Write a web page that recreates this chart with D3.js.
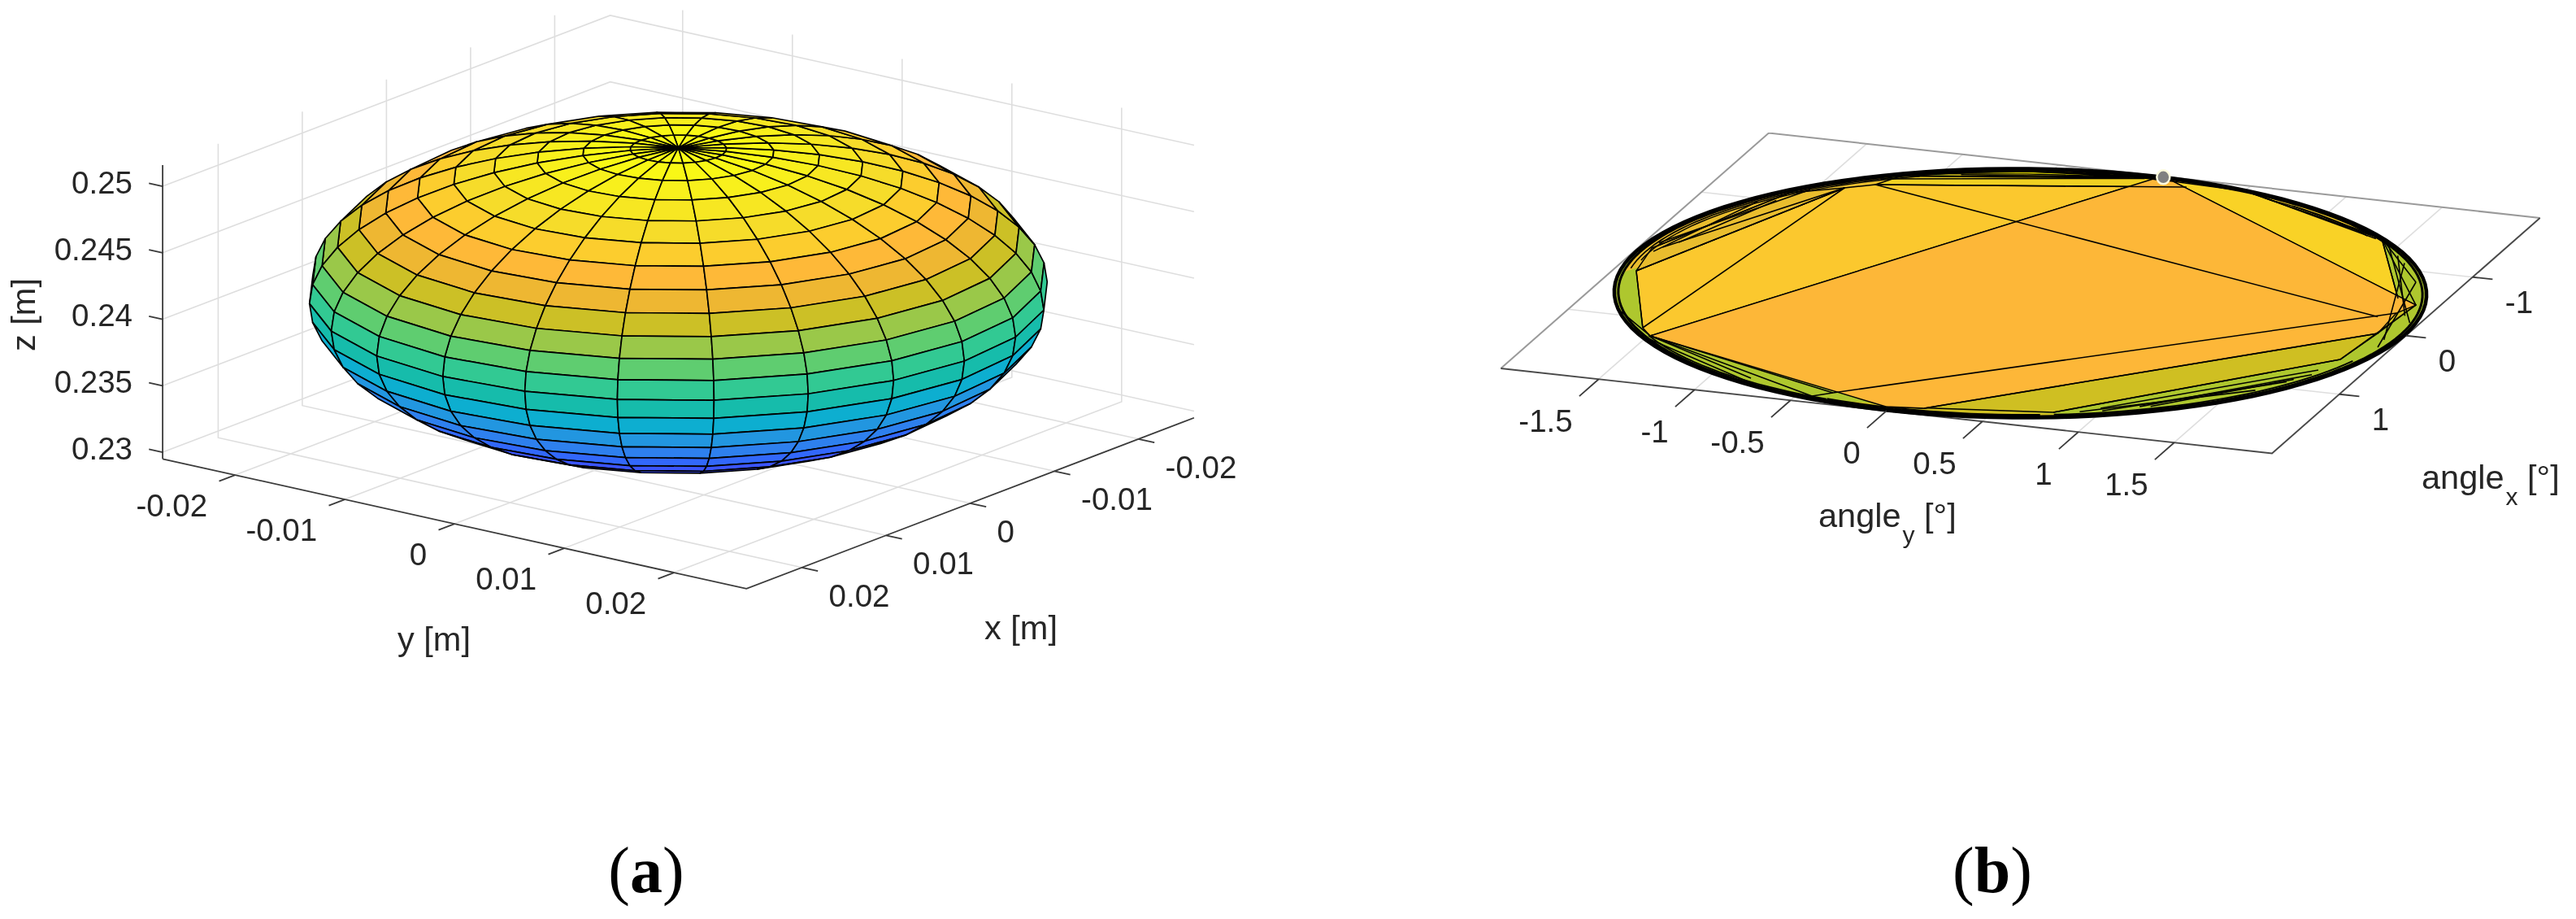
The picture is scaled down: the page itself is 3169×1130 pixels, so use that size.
<!DOCTYPE html>
<html>
<head>
<meta charset="utf-8">
<script src="https://cdn.jsdelivr.net/npm/d3@7/dist/d3.min.js"></script>
<style>
html,body{margin:0;padding:0;background:#fff;overflow:hidden}
svg{display:block}
text{font-family:"Liberation Sans",Arial,sans-serif;fill:#262626}
</style>
</head>
<body>
<script>
// ---------- panel (a): ellipsoid ----------
const ellipsoidRadiusXY = 0.0268;
const ellipsoidRadiusZ = 0.0109;
const ellipsoidCenterZ = 0.24045;
const boxLimitXY = 0.0266;
const boxZMin = 0.2295;
const boxZMax = 0.2516;
const xTicksA = [-0.02, -0.01, 0, 0.01, 0.02];
const yTicksA = [-0.02, -0.01, 0, 0.01, 0.02];
const zTicksA = [0.23, 0.235, 0.24, 0.245, 0.25];
const zTickLabelsA = ["0.23", "0.235", "0.24", "0.245", "0.25"];
const xyTickLabelsA = ["-0.02", "-0.01", "0", "0.01", "0.02"];
const latitudes = [90,82.5,75,67.5,60,52.5,45,37.5,30,22.5,15,7.5,0,-7.5,-15,-22.5,-30,-37.5,-45,-52.5,-60,-67.5,-75,-82.5,-90];
const longitudes = [-2,13,28,43,58,73,88,103,118,133,148,163,178,193,208,223,238,253,268,283,298,313,328,343,358];
const bandColors = ["#f9fb15","#f9f815","#f8f01c","#f7e722","#f6dc2a","#fccd2e","#feb938","#eeb733","#ccc027","#9ac84a","#5fcd70","#33c993","#14bcab","#0aaed0","#2396e0","#2f80ee","#3368fb","#3a55ff","#3a48f0","#3a40e0","#3a38d0","#3a30c0","#3a28b0","#3a20a0"];

// ---------- panel (b): angle polygons, [angle_y, angle_x] in degrees ----------
const limitB = 2.01;
const rimRadius = 2;
const rimAngles = d3.range(0, 360, 3);
const xTicksB = [-1, 0, 1];
const xTickLabelsB = ["-1", "0", "1"];
const yTicksB = [-1.5, -1, -0.5, 0, 0.5, 1, 1.5];
const yTickLabelsB = ["-1.5", "-1", "-0.5", "0", "0.5", "1", "1.5"];
const markerB = [0.05, -2.0];

const ptA=[-1.49,1.267], ptB=[-1.567,1.156], ptC=[-1.897,0.303], ptD=[-1.244,-1.405], ptE=[-1.37,-1.304];
const ptG=[-0.343,1.825], ptH=[0.161,1.907], ptI=[-0.025,1.946], ptJ=[-0.423,1.91], ptK=[0.013,-1.956];
const ptL=[0.116,-1.952], ptN=[1.777,-0.551], ptO=[1.894,-0.482], ptP=[1.846,-0.326], ptQ=[1.741,-0.191];
const ptR=[1.867,0.013], ptS=[1.384,-1.437], ptT=[1.831,0.471], ptU=[0.781,1.753];

// sectors hugging the rim: [from angle, to angle, colour]
const rimSectors = [
  {from:170, to:240, fill:"#e9bd2e"},
  {from:62,  to:100, fill:"#cfbf20"},
  {from:235, to:275, fill:"#efd21f"},
  {from:272, to:316, fill:"#f9d228"}
];
// dense outlines close to the rim: [from angle, to angle, radius, width]
const rimArcs = [
  {from:0,   to:360, r:1.98, w:3.0},
  {from:172, to:240, r:1.955, w:1.6},
  {from:176, to:236, r:1.935, w:1.4},
  {from:14,  to:66,  r:1.955, w:1.8},
  {from:68,  to:100, r:1.955, w:2.2},
  {from:100, to:140, r:1.96, w:1.8},
  {from:235, to:272, r:1.955, w:2.0},
  {from:290, to:312, r:1.95,  w:1.4}
];

const polygonsB = [
  {fill:"#cfbf20", pts:[ptI,ptU,ptT,ptR,ptO,ptH]},
  {fill:"#fbc82d", pts:[ptC,ptE,ptD,ptK,ptA,ptB]},
  {fill:"#e9bd2e", pts:[[-1.945,-0.068],[-1.597,-1.139],ptE,ptC]},
  {fill:"#f0d020", pts:[ptD,[-1.167,-1.585],[-0.029,-1.969],ptL,[0.21,-1.888]]},
  {fill:"#e8e000", pts:[[-1.167,-1.62],[-0.6,-1.86],[-0.029,-1.969],[-0.6,-1.82]]},
  {fill:"#f9d228", pts:[ptL,[0.503,-1.925],[1.33,-1.459],ptS,ptN,ptO]},
  {fill:"#fdb738", pts:[ptA,ptK,ptL,ptO,ptP,ptR,ptH,ptI]}
];
const chordsB = [
  [ptG,ptP],[ptH,ptR],[ptD,[1.78,-0.24]],[ptA,ptG],[ptA,ptJ],[ptJ,ptG],[ptB,ptE],[ptC,ptE],[ptC,ptB],
  [ptA,[-1.75,0.95]],[ptA,[-0.8,1.74]],[[-1.5,1.3],[-0.75,1.83]],[ptD,[0.21,-1.888]],
  [[-1.945,-0.068],[-1.597,-1.139]],[[-1.94,-0.16],[-1.52,-1.22]],[[-1.9,-0.1],ptE],[[-1.85,-0.2],[-1.62,-1.0]],[[-1.92,-0.02],[-1.7,-0.95]],
  [[-1.25,-1.5],[-0.029,-1.95]],[[-1.1,-1.6],[-0.1,-1.93]],[[-0.9,-1.7],[0.0,-1.98]],
  [[0.503,-1.925],[1.33,-1.459]],[[0.62,-1.86],[1.36,-1.42]],[[0.8,-1.78],[1.3,-1.49]],
  [ptS,ptN],[ptS,ptO],[ptS,[1.774,-0.828]],[[1.774,-0.828],[1.94,0.223]],[ptO,ptT],[[1.55,-1.2],[1.9,-0.3]],[[1.62,-1.1],[1.93,0.1]],[[1.45,-1.35],[1.96,-0.2]],
  [ptU,ptT],[[0.978,1.612],[1.785,0.668]],[[1.15,1.52],[1.78,0.75]],[[1.0,1.65],[1.7,0.9]],[[0.9,1.7],[1.6,1.08]],[[1.2,1.5],[1.72,0.85]]
];

// ---------- layout ----------
const W = 3169, H = 1130;
const svg = d3.select("body").append("svg").attr("width",W).attr("height",H).attr("viewBox",`0 0 ${W} ${H}`);
svg.append("defs").append("filter").attr("id","soft").attr("x",0).attr("y",0).attr("width",1).attr("height",1)
  .attr("filterUnits","objectBoundingBox")
  .append("feGaussianBlur").attr("stdDeviation",0.55);

// Panel (a) oblique scales: each data axis contributes a screen offset
const ax = {sx:d3.scaleLinear([0,0.01],[0,-103.5]), sy:d3.scaleLinear([0,0.01],[0,39.5])};
const ay = {sx:d3.scaleLinear([0,0.01],[0,135]),    sy:d3.scaleLinear([0,0.01],[0,30])};
const az = d3.scaleLinear([boxZMin,0.25],[539,539-(0.25-boxZMin)*16350]);
const projA = (x,y,z)=>[834.5+ax.sx(x)+ay.sx(y), az(z)+ax.sy(x)+ay.sy(y)];

// Panel (b) oblique scales
const bx = {sx:d3.scaleLinear([0,1],[0,-82]), sy:d3.scaleLinear([0,1],[0,72])};
const by = {sx:d3.scaleLinear([0,1],[0,236]), sy:d3.scaleLinear([0,1],[0,26])};
const projB = (y,x)=>[2485.5+bx.sx(x)+by.sx(y), 360.5+bx.sy(x)+by.sy(y)];

const seg = d3.line();
const closed = d3.line().curve(d3.curveLinearClosed);
const GRID="#dedede", AXIS="#3a3a3a";
function path(g,d,stroke,w,fill){return g.append("path").attr("d",d).attr("stroke",stroke).attr("stroke-width",w).attr("fill",fill||"none");}
function label(g,x,y,str,anchor,size){
  return g.append("text").attr("x",x).attr("y",y+0.358*size).attr("text-anchor",anchor).attr("font-size",size).text(str);
}

// ---------- panel (a) drawing ----------
const ga = svg.append("g").attr("filter","url(#soft)");
const L = boxLimitXY;
zTicksA.forEach(z=>{
  path(ga,seg([projA(L,-L,z),projA(-L,-L,z),projA(-L,L,z)]),GRID,1.6);
});
xTicksA.forEach(x=>{
  path(ga,seg([projA(x,L,boxZMin),projA(x,-L,boxZMin),projA(x,-L,boxZMax)]),GRID,1.6);
});
yTicksA.forEach(y=>{
  path(ga,seg([projA(L,y,boxZMin),projA(-L,y,boxZMin),projA(-L,y,boxZMax)]),GRID,1.6);
});

// surface facets: only the ones that face the viewer
const surf = (lat,lon)=>{
  const la=lat*Math.PI/180, lo=lon*Math.PI/180;
  return projA(ellipsoidRadiusXY*Math.cos(la)*Math.cos(lo), ellipsoidRadiusXY*Math.cos(la)*Math.sin(lo), ellipsoidCenterZ+ellipsoidRadiusZ*Math.sin(la));
};
const facets=[];
for(let i=0;i<latitudes.length-1;i++){
  for(let j=0;j<longitudes.length-1;j++){
    const q=[surf(latitudes[i+1],longitudes[j]),surf(latitudes[i+1],longitudes[j+1]),surf(latitudes[i],longitudes[j+1]),surf(latitudes[i],longitudes[j])];
    if(d3.polygonArea(q)>0) facets.push({q,c:bandColors[i]});
  }
}
ga.selectAll("path.f").data(facets).join("path").attr("class","f")
  .attr("d",d=>closed(d.q)).attr("fill",d=>d.c).attr("stroke","#000").attr("stroke-width",1.7).attr("stroke-linejoin","round");

// axes
path(ga,seg([projA(L,-L,boxZMin),projA(L,-L,boxZMax)]),AXIS,1.8);
path(ga,seg([projA(L,-L,boxZMin),projA(L,L,boxZMin),projA(-L,L,boxZMin)]),AXIS,1.8);
zTicksA.forEach((z,i)=>{
  const p=projA(L,-L,z), q=projA(L,-L-0.00125,z);
  path(ga,seg([p,q]),AXIS,1.8);
  label(ga,163,p[1]-5,zTickLabelsA[i],"end",38.5);
});
yTicksA.forEach((y,i)=>{
  const p=projA(L,y,boxZMin), q=projA(L+0.0019,y,boxZMin);
  path(ga,seg([p,q]),AXIS,1.8);
  label(ga,p[0]-34,p[1]+37,xyTickLabelsA[i],"end",38.5);
});
xTicksA.forEach(x=>{
  const p=projA(x,L,boxZMin), q=projA(x,L+0.00145,boxZMin);
  path(ga,seg([p,q]),AXIS,1.8);
  label(ga,p[0]+33,p[1]+34,x===0?"0":x.toFixed(2),"start",38.5);
});
label(ga,534,785,"y [m]","middle",41.5);
label(ga,1256,771,"x [m]","middle",41.5);
ga.append("text").attr("transform","translate(43,387) rotate(-90)").attr("text-anchor","middle").attr("font-size",41.5).text("z [m]");

// ---------- panel (b) drawing ----------
const gb = svg.append("g").attr("filter","url(#soft)");
const M = limitB;
xTicksB.forEach(x=>path(gb,seg([projB(-M,x),projB(M,x)]),GRID,1.6));
yTicksB.forEach(y=>path(gb,seg([projB(y,M),projB(y,-M)]),GRID,1.6));
path(gb,seg([projB(-M,M),projB(-M,-M),projB(M,-M)]),"#9a9a9a",2);
path(gb,seg([projB(-M,M),projB(M,M),projB(M,-M)]),"#4a4a4a",1.9);

const polar=(a,r)=>projB(r*Math.cos(a*Math.PI/180),r*Math.sin(a*Math.PI/180));
const arc=(from,to,r)=>d3.range(from,to+0.01,2).map(a=>polar(a,r));
const rim = rimAngles.map(a=>polar(a,rimRadius));
path(gb,closed(rim),"none",0,"#aec72e");
rimSectors.forEach(s=>path(gb,closed(arc(s.from,s.to,1.98)),"none",0,s.fill));
polygonsB.forEach(p=>path(gb,closed(p.pts.map(d=>projB(d[0],d[1]))),"#000",1.4,p.fill).attr("stroke-linejoin","round"));
gb.selectAll("path.c").data(chordsB).join("path").attr("class","c")
  .attr("d",d=>seg(d.map(v=>projB(v[0],v[1])))).attr("stroke","#000").attr("stroke-width",1.6).attr("fill","none");
rimArcs.forEach(a=>path(gb,seg(arc(a.from,a.to,a.r)),"#000",a.w));
path(gb,closed(rim),"#000",4.5);
const mk=projB(markerB[0],markerB[1]);
gb.append("ellipse").attr("cx",mk[0]).attr("cy",mk[1]).attr("rx",8).attr("ry",8.5).attr("fill","#808080").attr("stroke","#fdfbdc").attr("stroke-width",2.5);

xTicksB.forEach((x,i)=>{
  const p=projB(M,x), q=projB(M+0.104,x);
  path(gb,seg([p,q]),AXIS,1.8);
  label(gb,p[0]+40,p[1]+30,xTickLabelsB[i],"start",38.5);
});
yTicksB.forEach((y,i)=>{
  const p=projB(y,M), q=projB(y,M+0.29);
  path(gb,seg([p,q]),AXIS,1.8);
  label(gb,p[0]-32,p[1]+51,yTickLabelsB[i],"end",38.5);
});
function subLabel(x,y,base,sub,rest){
  const t=gb.append("text").attr("x",x).attr("y",y).attr("font-size",41.5).attr("xml:space","preserve");
  t.append("tspan").text(base);
  t.append("tspan").attr("font-size",30).attr("dy",20).attr("dx",2).text(sub);
  t.append("tspan").attr("dy",-20).text(rest);
}
subLabel(2237,648,"angle","y"," [°]");
subLabel(2979,601,"angle","x"," [°]");

// ---------- captions ----------
function caption(x,letter){
  const t=svg.append("text").attr("x",x).attr("y",1097).attr("text-anchor","middle").attr("font-size",80)
    .style("font-family","'Liberation Serif',serif").style("fill","#000");
  t.append("tspan").text("(");
  t.append("tspan").attr("font-weight","bold").text(letter);
  t.append("tspan").text(")");
}
caption(795,"a");
caption(2451,"b");
</script>
</body>
</html>
